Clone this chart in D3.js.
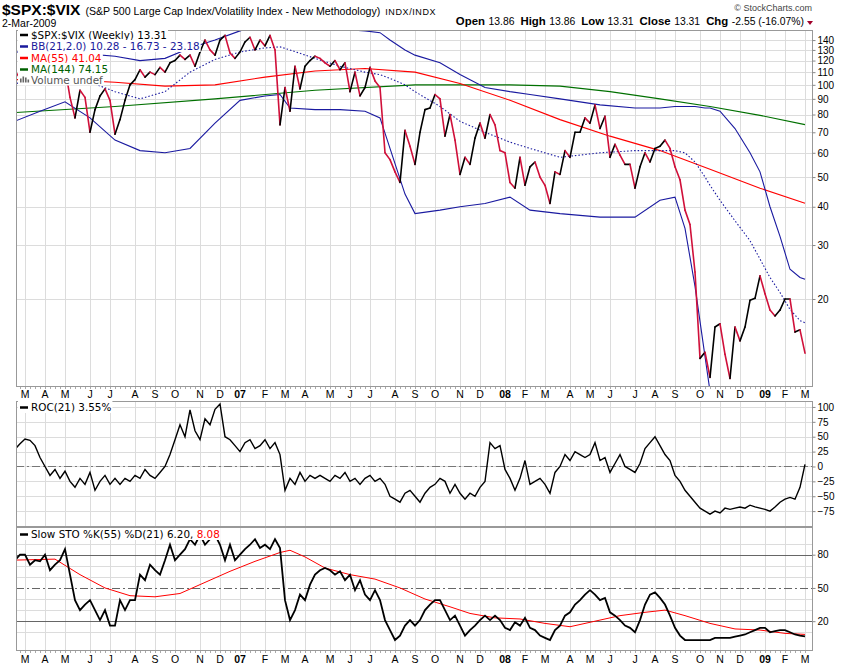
<!DOCTYPE html>
<html><head><meta charset="utf-8">
<script src="https://cdn.jsdelivr.net/npm/d3@7"></script>
<style>body{margin:0;background:#fff}svg{display:block}</style>
</head><body><svg id="c" width="850" height="668"></svg>
<script>
// ---------- DATA ----------
const firstWeekStart = "2006-02-13";   // Monday of first weekly bar
const lastWeekStart = "2009-03-02";    // Monday of last weekly bar
const price = [
113,111,105,108,120,116,114,108,108,113,
113,114,91,78,96,91,70,83,92,97,
89,69,77,89,100,104,112,106,110,108,
114,110,118,120,125,121,125,115,128,140,
130,125,140,145,127,122,128,138,143,130,
140,134,145,130,74,98,82,115,97,115,
120,124,122,118,115,120,112,118,95,110,
92,98,114,103,98,60,57,52,48,71,
63,55,70,83,84,93,90,68,80,66,
51,58,55,67,75,67,80,74,61,60,
48,46,58,47,54,56,50,47,41,52,
51,61,58,70,70,78,75,86,72,79,
58,64,59,55,55,46,54,60,56,62,
63,66,62,54,49,39,35,24.5,12.8,13.4,
11.1,16.2,16.6,13.2,11.0,16.2,14.6,16.2,19.8,20.1,
23.8,20.8,18.4,17.6,18.4,20.0,20.0,15.6,15.86,13.31];

const bandWeeks = [0,6,11,16,21,26,31,36,41,46,51,54,56,61,66,71,74,76,79,81,86,90,95,100,104,110,118,125,130,133,135,137,139,140,142,145,148,150,152,154,156,158,159];
const bbUpper = [128,128,127,126,124,120,122,132,140,150,160,162,165,160,152,150,148,140,130,125,118,108,98,95,93,90,86,84,84,85,85,85,84,84,82,72,60,52,40,32,25,23.5,23.18];
const bbMiddle = [100,105,108,102,95,90,95,110,121,128,132,133,130,122,115,110,108,105,100,95,85,76,70,65,62,58,60,61,61,61,60,56,50,47,42,36,31,27,23.5,21,18.5,17,16.73];
const bbLower = [75,82,88,78,66,61,60,62,75,89,92,93,84,83,83,82,78,62,44,38,39,40,41,43,39,38,37,37,42,43,34,22,13,10,6,5,6,7,7,8,9,10,10.28];

const ma55Weeks = [0,11,21,31,41,51,61,71,81,90,100,110,120,130,140,150,159];
const ma55 = [104,104,102,99,100,106,111,113,110,101,89,77,68,61,53,46,41.04];
const ma144Weeks = [0,21,41,61,81,100,110,120,130,140,150,159];
const ma144 = [81,85,90,96,100,100,99,95,90,85,79.5,74.15];

const roc21 = [
25,29,38,46,44,35,15,0,-15,-5,
-20,-8,-25,-35,-20,-30,-10,-40,-25,-15,
-30,-20,-30,-20,-25,-15,-20,-5,-15,-20,
-10,0,20,45,70,50,95,60,45,80,
70,96,105,50,45,35,25,40,45,30,
35,45,30,40,20,-40,-20,-30,-10,-25,
-15,-20,-15,-20,-25,-15,-20,-10,-25,-20,
-30,-20,-15,-25,-20,-30,-50,-55,-60,-45,
-40,-50,-60,-45,-35,-30,-20,-25,-45,-30,
-45,-55,-45,-50,-35,-25,40,30,35,-5,
-20,-40,-20,10,-30,-25,-20,-30,-45,-10,
0,20,10,25,20,15,20,40,10,15,
-10,5,20,0,-5,-10,5,30,40,50,
35,20,10,-15,-25,-40,-50,-60,-70,-75,
-80,-75,-78,-70,-72,-70,-68,-70,-65,-68,
-70,-72,-75,-68,-60,-55,-52,-55,-35,3.55];

const stoK = [
74,75,80,80,71,75,74,80,66,71,
75,85,62,39,30,35,39,30,21,30,
16,16,39,30,39,39,62,57,71,66,
62,75,89,75,80,85,94,89,98,89,
94,98,89,75,89,75,80,85,89,94,
86,89,85,94,86,39,21,30,44,39,
53,62,66,68,66,62,65,57,62,48,
57,44,39,48,39,21,12,3,7,16,
21,16,21,30,35,39,39,30,21,25,
16,7,12,16,21,25,21,25,21,14,
12,19,16,23,14,12,7,5,3,12,
16,25,28,35,39,44,48,44,39,41,
28,25,21,16,14,10,21,35,44,46,
41,35,25,14,7,3,3,3,3,3,
3,5,5,5,5,6,7,8,10,12,
14,14,10,11,12,12,10,8,7,6.2];
const stoDWeeks = [0,9,14,19,24,29,34,39,44,49,54,56,59,63,68,73,78,83,88,92,97,102,107,112,117,122,127,131,135,140,145,150,155,159];
const stoD = [75,76,62,50,43,42,45,55,65,74,82,84,78,68,62,58,50,40,33,27,23,22,18,15,20,25,28,30,25,18,13,12,9,8.08];

const mainTicks = [20,30,40,50,60,70,80,90,100,110,120,130,140];
const rocTicks = [100,75,50,25,0,-25,-50,-75];
const stoTicks = [80,50,20];
const monthLetters = ["J","F","M","A","M","J","J","A","S","O","N","D"];

// ---------- LAYOUT ----------
const svg = d3.select("#c");
const L = 16, R = 812;
const P = {main:[30,386], roc:[401,526], sto:[527,650]};
const FONT = "'Liberation Sans', Arial, sans-serif";
const LFONT = "'DejaVu Sans', Verdana, sans-serif";
const GRID = "#dcdcdc";

const parse = d3.timeParse("%Y-%m-%d");
const dates = d3.timeMonday.range(parse(firstWeekStart), d3.timeDay.offset(parse(lastWeekStart), 1));
const n = dates.length;
const x = d3.scaleLinear().domain([0, n-1]).range([10, 805]);
const yM = d3.scaleLog().domain([10.4, 151]).range([P.main[1], P.main[0]]);
const yR = d3.scaleLinear().domain([-100, 110]).range([P.roc[1], P.roc[0]]);
const yS = d3.scaleLinear().domain([-6, 105]).range([P.sto[1], P.sto[0]]);

const monthIdx = [];
for (let i=1;i<n;i++) if (dates[i].getMonth()!==dates[i-1].getMonth()) monthIdx.push(i);

const defs = svg.append("defs");
Object.entries(P).forEach(([k,[t,b]])=>{
  defs.append("clipPath").attr("id","clip-"+k).append("rect").attr("x",L).attr("y",t).attr("width",R-L).attr("height",b-t);
});

function panel(key, yScale, ticks){
  const [t,b]=P[key];
  const g=svg.append("g");
  g.selectAll("line.v").data(monthIdx).join("line")
    .attr("x1",i=>Math.round(x(i))+0.5).attr("x2",i=>Math.round(x(i))+0.5).attr("y1",t).attr("y2",b)
    .attr("stroke",GRID).attr("stroke-width",1);
  if (ticks) g.selectAll("line.h").data(ticks).join("line")
    .attr("x1",L).attr("x2",R).attr("y1",d=>Math.round(yScale(d))+0.5).attr("y2",d=>Math.round(yScale(d))+0.5)
    .attr("stroke",GRID).attr("stroke-width",1);
  return g;
}
panel("main", yM, mainTicks);
panel("roc", yR, rocTicks);
panel("sto", yS, [10,30,40,60,70,90]);

// ---------- MAIN PANEL ----------
const gm = svg.append("g").attr("clip-path","url(#clip-main)");
const sparse = (weeks, vals) => weeks.map((w,j)=>[w, vals[j]]);
const lineM = d3.line().defined(d=>d[1]>0).x(d=>x(d[0])).y(d=>yM(d[1]));
gm.append("path").attr("d",lineM(sparse(ma144Weeks,ma144))).attr("fill","none").attr("stroke","#007000").attr("stroke-width",1.1);
gm.append("path").attr("d",lineM(sparse(ma55Weeks,ma55))).attr("fill","none").attr("stroke","#ff0000").attr("stroke-width",1.1);
gm.append("path").attr("d",lineM(sparse(bandWeeks,bbUpper))).attr("fill","none").attr("stroke","#1a1aa0").attr("stroke-width",1.1);
gm.append("path").attr("d",lineM(sparse(bandWeeks,bbLower))).attr("fill","none").attr("stroke","#1a1aa0").attr("stroke-width",1.1);
gm.append("path").attr("d",lineM(sparse(bandWeeks,bbMiddle))).attr("fill","none").attr("stroke","#1a1aa0").attr("stroke-width",1.1).attr("stroke-dasharray","1.5,2");
for (let i=1;i<price.length;i++){
  const up = price[i]>=price[i-1];
  gm.append("path").attr("d",lineM([[i-1,price[i-1]],[i,price[i]]]))
    .attr("fill","none").attr("stroke",up?"#000":"#d0103a").attr("stroke-width",1.6).attr("stroke-linecap","round");
}

// ---------- ROC PANEL ----------
const gr = svg.append("g").attr("clip-path","url(#clip-roc)");
gr.append("line").attr("x1",L).attr("x2",R).attr("y1",Math.round(yR(0))+0.5).attr("y2",Math.round(yR(0))+0.5)
  .attr("stroke","#777").attr("stroke-dasharray","8,3,2,3");
gr.append("path").attr("d",d3.line().x((d,i)=>x(i)).y(d=>yR(d))(roc21)).attr("fill","none").attr("stroke","#000").attr("stroke-width",1.4);

// ---------- STO PANEL ----------
const gs = svg.append("g").attr("clip-path","url(#clip-sto)");
[80,20].forEach(v=>gs.append("line").attr("x1",L).attr("x2",R).attr("y1",Math.round(yS(v))+0.5).attr("y2",Math.round(yS(v))+0.5).attr("stroke","#666"));
gs.append("line").attr("x1",L).attr("x2",R).attr("y1",Math.round(yS(50))+0.5).attr("y2",Math.round(yS(50))+0.5).attr("stroke","#666").attr("stroke-dasharray","8,3,2,3");
gs.append("path").attr("d",d3.line().x(d=>x(d[0])).y(d=>yS(d[1]))(sparse(stoDWeeks,stoD))).attr("fill","none").attr("stroke","#ff0000").attr("stroke-width",1);
gs.append("path").attr("d",d3.line().x((d,i)=>x(i)).y(d=>yS(d))(stoK)).attr("fill","none").attr("stroke","#000").attr("stroke-width",1.8);

// ---------- BORDERS & AXES ----------
Object.values(P).forEach(([t,b])=>{
  svg.append("rect").attr("x",L+0.5).attr("y",t+0.5).attr("width",R-L).attr("height",b-t).attr("fill","none").attr("stroke","#999");
});
// small weekly ticks under the price and stochastic panels
[P.main[1], P.sto[1]].forEach(yb=>{
  svg.append("g").selectAll("line").data(d3.range(n).filter(i=>x(i)>L)).join("line")
    .attr("x1",i=>Math.round(x(i))+0.5).attr("x2",i=>Math.round(x(i))+0.5)
    .attr("y1",yb+1).attr("y2",yb+3).attr("stroke","#aaa");
});

function rightAxis(scale, ticks){
  const g = svg.append("g").attr("transform",`translate(${R+0.5},0)`);
  g.call(d3.axisRight(scale).tickValues(ticks).tickSize(3).tickPadding(2).tickFormat(d3.format("d")));
  g.select(".domain").remove();
  g.selectAll("line").attr("stroke","#888");
  g.selectAll("text").style("font-family",FONT).style("font-size","10px").attr("fill","#000");
}
rightAxis(yM, mainTicks);
rightAxis(yR, rocTicks);
rightAxis(yS, stoTicks);

function monthLabels(yPos){
  svg.append("g").selectAll("text").data(monthIdx).join("text")
    .attr("x",i=>x(i)).attr("y",yPos).attr("text-anchor","middle")
    .style("font-family",FONT).style("font-size","10.5px")
    .style("font-weight",i=>dates[i].getMonth()===0?"bold":"normal")
    .text(i=>dates[i].getMonth()===0? d3.timeFormat("%y")(dates[i]) : monthLetters[dates[i].getMonth()]);
}
monthLabels(398);
monthLabels(663);

// ---------- HEADER ----------
const hdr = svg.append("text").attr("x",2).attr("y",15).style("font-family",FONT);
hdr.append("tspan").style("font-weight","bold").style("font-size","15.5px").text("$SPX:$VIX");
hdr.append("tspan").attr("dx",5).style("font-size","10.6px").text("(S&P 500 Large Cap Index/Volatility Index - New Methodology)");
hdr.append("tspan").attr("dx",5).style("font-size","9px").style("letter-spacing","0.6px").text("INDX/INDX");
svg.append("text").attr("x",2).attr("y",27).style("font-family",FONT).style("font-size","10.5px").text("2-Mar-2009");
svg.append("text").attr("x",812).attr("y",11).attr("text-anchor","end").style("font-family",FONT).style("font-size","9px").attr("fill","#444").text("© StockCharts.com");
const ohlc = [["Open","13.86"],["High","13.86"],["Low","13.31"],["Close","13.31"],["Chg","-2.55 (-16.07%)"]];
const ot = svg.append("text").attr("x",804).attr("y",25).attr("text-anchor","end").style("font-family",FONT);
ohlc.forEach(([k,v],j)=>{
  ot.append("tspan").attr("dx", j?6:0).style("font-weight","bold").style("font-size","11.4px").text(k);
  ot.append("tspan").attr("dx",3.5).style("font-size","10.4px").text(v);
});
svg.append("path").attr("d","M807,21 L813,21 L810,25 Z").attr("fill","#a0002a");

// ---------- LEGENDS ----------
function legendRow(y, swatch, parts){
  const g = svg.append("g");
  const bg = g.append("rect").attr("fill","#fff");
  const t = g.append("text").attr("x",31).attr("y",y).style("font-family",LFONT).style("font-size","10.4px");
  parts.forEach(([s,c])=>t.append("tspan").attr("fill",c).text(s));
  const bb = t.node().getBBox();
  bg.attr("x",18).attr("y",bb.y).attr("width",bb.x+bb.width-18+1).attr("height",bb.height);
  if (swatch==="vol"){
    [[20,4],[22.5,6],[25,5],[27.5,3]].forEach(([xx,h])=>g.append("rect").attr("x",xx).attr("y",y-1-h).attr("width",1.6).attr("height",h).attr("fill","#666"));
  } else {
    g.append("line").attr("x1",20).attr("x2",28).attr("y1",y-3.5).attr("y2",y-3.5).attr("stroke",swatch).attr("stroke-width",2.5);
  }
}
legendRow(38.5, "#000", [["$SPX:$VIX (Weekly) 13.31","#000"]]);
legendRow(50, "#1a1a9c", [["BB(21,2.0) 10.28 - 16.73 - 23.18","#1a1a9c"]]);
legendRow(61.5, "#ff0000", [["MA(55) 41.04","#ff0000"]]);
legendRow(73, "#006000", [["MA(144) 74.15","#006000"]]);
legendRow(83.5, "vol", [["Volume undef","#555"]]);
legendRow(411, "#000", [["ROC(21) 3.55%","#000"]]);
legendRow(538, "#000", [["Slow STO %K(55) %D(21) 6.20, ","#000"],["8.08","#ff0000"]]);
</script></body></html>
